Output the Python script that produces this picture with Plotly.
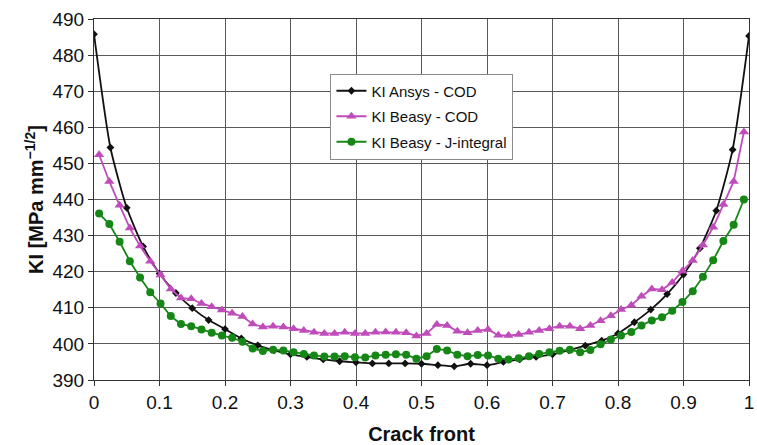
import plotly.graph_objects as go

# Crack-front positions (normalised) and stress intensity factors KI [MPa mm^-1/2]
ansys_x = [0.0, 0.025, 0.05, 0.075, 0.1, 0.125, 0.15, 0.175, 0.2, 0.225,
           0.25, 0.275, 0.3, 0.325, 0.35, 0.375, 0.4, 0.425, 0.45, 0.475,
           0.5, 0.525, 0.55, 0.575, 0.6, 0.625, 0.65, 0.675, 0.7, 0.725,
           0.75, 0.775, 0.8, 0.825, 0.85, 0.875, 0.9, 0.925, 0.95, 0.975, 1.0]
ansys_cod = [485.8, 454.4, 437.7, 427.0, 419.5, 414.1, 409.9, 406.6, 404.1, 401.5,
             399.6, 398.2, 397.1, 396.4, 395.7, 395.2, 394.9, 394.6, 394.6, 394.6,
             394.5, 394.1, 393.8, 394.5, 394.1, 395.0, 395.7, 396.4, 397.1, 398.2,
             399.5, 400.9, 402.9, 406.0, 409.5, 413.8, 419.2, 426.5, 436.9, 453.8, 485.3]

beasy_x = [0.0078, 0.0234, 0.0391, 0.0547, 0.0703, 0.0859, 0.1016, 0.1172,
           0.1328, 0.1484, 0.1641, 0.1797, 0.1953, 0.2109, 0.2266, 0.2422,
           0.2578, 0.2734, 0.2891, 0.3047, 0.3203, 0.3359, 0.3516, 0.3672,
           0.3828, 0.3984, 0.4141, 0.4297, 0.4453, 0.4609, 0.4766, 0.4922,
           0.5078, 0.5234, 0.5391, 0.5547, 0.5703, 0.5859, 0.6016, 0.6172,
           0.6328, 0.6484, 0.6641, 0.6797, 0.6953, 0.7109, 0.7266, 0.7422,
           0.7578, 0.7734, 0.7891, 0.8047, 0.8203, 0.8359, 0.8516, 0.8672,
           0.8828, 0.8984, 0.9141, 0.9297, 0.9453, 0.9609, 0.9766, 0.9922]
beasy_cod = [452.4, 445.0, 438.4, 432.1, 427.1, 422.9, 419.1, 415.2,
             412.7, 412.5, 411.2, 410.3, 409.4, 408.5, 407.6, 405.5,
             404.7, 404.9, 404.7, 404.2, 403.7, 403.2, 402.9, 402.9,
             403.2, 402.9, 402.9, 403.2, 403.3, 403.2, 403.1, 402.2,
             402.9, 405.4, 405.1, 403.5, 403.1, 403.7, 404.0, 402.4,
             402.3, 402.6, 403.2, 403.7, 404.2, 404.9, 404.9, 404.2,
             405.1, 406.4, 407.8, 409.5, 410.7, 413.2, 415.2, 415.0,
             417.0, 420.2, 423.1, 427.4, 432.3, 438.6, 445.0, 458.7]
beasy_jint = [436.1, 433.2, 428.3, 422.9, 418.4, 414.3, 411.2, 407.7,
              405.5, 404.9, 404.0, 403.1, 402.3, 401.7, 400.6, 398.7,
              398.0, 398.4, 398.2, 397.7, 397.2, 396.8, 396.5, 396.5,
              396.6, 396.3, 396.2, 396.8, 397.0, 397.1, 397.0, 395.9,
              396.6, 398.6, 398.2, 397.0, 396.6, 396.9, 396.8, 395.9,
              395.7, 396.0, 396.6, 397.2, 397.7, 398.1, 398.4, 397.7,
              398.3, 399.9, 401.2, 402.3, 403.3, 405.1, 406.5, 407.4,
              409.2, 411.6, 414.6, 418.6, 423.2, 428.5, 433.0, 440.0]

x_ticks = [0, 0.1, 0.2, 0.3, 0.4, 0.5, 0.6, 0.7, 0.8, 0.9, 1]
x_tick_text = ["0", "0.1", "0.2", "0.3", "0.4", "0.5", "0.6", "0.7", "0.8", "0.9", "1"]
y_ticks = [390, 400, 410, 420, 430, 440, 450, 460, 470, 480, 490]

TICK_FONT = dict(family="Arial, Liberation Sans, sans-serif", size=19, color="#111")
TITLE_FONT = dict(family="Arial, Liberation Sans, sans-serif", size=20, color="#111")

fig = go.Figure()
fig.add_trace(go.Scatter(
    x=ansys_x, y=ansys_cod, name="KI Ansys - COD", legendgroup="a",
    mode="lines+markers", line=dict(color="#111111", width=1.8, shape="spline", smoothing=0.6),
    marker=dict(symbol="diamond", size=6, color="#111111"),
))
fig.add_trace(go.Scatter(
    x=beasy_x, y=beasy_cod, name="KI Beasy - COD", legendgroup="b",
    mode="lines+markers", line=dict(color="#C04CBB", width=1.8),
    marker=dict(symbol="triangle-up", size=9, color="#C04CBB"),
))
fig.add_trace(go.Scatter(
    x=beasy_x, y=beasy_jint, name="KI Beasy - J-integral", legendgroup="c",
    mode="lines+markers", line=dict(color="#168716", width=1.8),
    marker=dict(symbol="circle", size=8, color="#168716"),
))

fig.update_layout(
    width=757, height=445,
    margin=dict(l=94, r=3, t=19, b=56),
    paper_bgcolor="white", plot_bgcolor="white",
    font=dict(family="Arial, Liberation Sans, sans-serif"),
    legend=dict(
        x=0.361, y=0.849, xanchor="left", yanchor="top",
        bgcolor="white", bordercolor="#8a8a8a", borderwidth=1,
        font=dict(family="Arial, Liberation Sans, sans-serif", size=15, color="#111"),
        tracegroupgap=3,
    ),
    xaxis=dict(
        range=[0, 1], tickvals=x_ticks, ticktext=x_tick_text,
        showgrid=True, gridcolor="#5a5a5a", gridwidth=1,
        showline=True, linecolor="#333", linewidth=1, mirror=True,
        ticks="outside", ticklen=5, tickcolor="#333",
        tickfont=TICK_FONT, zeroline=False, ticklabeloverflow="allow",
        title=dict(text="<b>Crack front</b>", font=TITLE_FONT, standoff=15),
    ),
    yaxis=dict(
        range=[390, 490], tickvals=y_ticks,
        showgrid=True, gridcolor="#5a5a5a", gridwidth=1,
        showline=True, linecolor="#333", linewidth=1, mirror=True,
        ticks="outside", ticklen=5, tickcolor="#333",
        tickfont=TICK_FONT, zeroline=False,
        title=dict(text="<b>KI [MPa mm<sup>\u22121/2</sup>]</b>", font=TITLE_FONT, standoff=3),
    ),
)

fig.write_html("out.html")
